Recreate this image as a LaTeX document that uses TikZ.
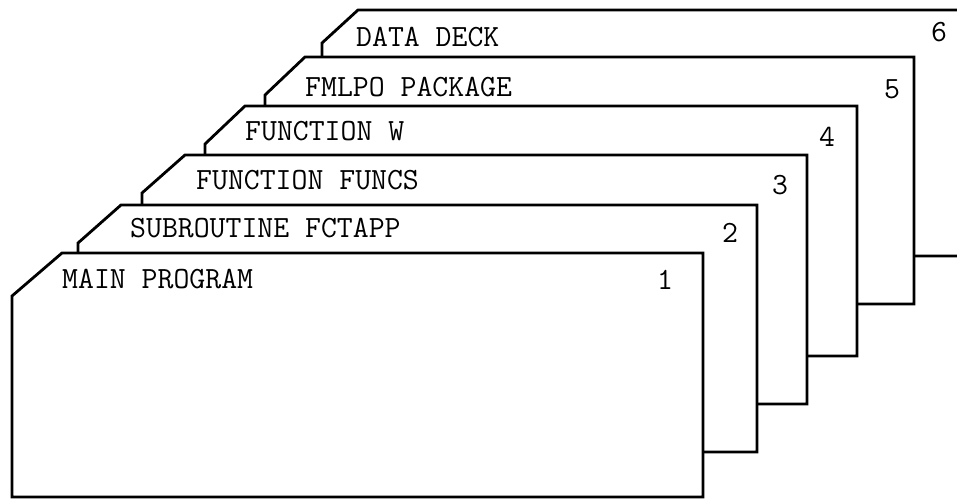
\documentclass[tikz,border=0pt]{standalone}
\usepackage{tikz}
\usetikzlibrary{positioning}

\begin{document}
\begin{tikzpicture}[x=1bp,y=-1bp,
  card/.style={draw,fill=white,line width=2.8bp},
  cardtext/.style={font=\ttfamily\fontsize{31}{35}\selectfont,inner sep=0pt,anchor=base west}]
  \useasboundingbox (0,0) rectangle (957,499); % whole page
  \clip (0,0) rectangle (957,499); % card 6 runs off to the right
  % cards from back to front: left x / cut x / top / cut y / right / bottom / text / number / text pos / number pos
  \foreach \lx/\cx/\tp/\cy/\rx/\bt/\txt/\num/\tx/\ty/\nx/\ny in {
      322/358/10/43/1000/256/DATA DECK/6/356/47/931/42,
      265/305/57/95/914/304/FMLPO PACKAGE/5/305/97/884/99,
      205/245/106/144/857/356/FUNCTION W/4/245/141/819/147,
      142/185/155/193/807/404/FUNCTION FUNCS/3/196/190/772/195,
      78/121/205/243/757/452/SUBROUTINE FCTAPP/2/130/238/722/243,
      12/62/253/296/703/497/MAIN PROGRAM/1/62/289/657/290}{
    \draw[card] (\cx,\tp) -- (\rx,\tp) -- (\rx,\bt) -- (\lx,\bt) -- (\lx,\cy) -- cycle; % card outline with cut corner
    \node[cardtext] (lbl\num) at (\tx,\ty) {\txt}; % deck name
    \node[cardtext] (num\num) at (\nx,\ny) {\num}; % card number
  }
\end{tikzpicture}
\end{document}
